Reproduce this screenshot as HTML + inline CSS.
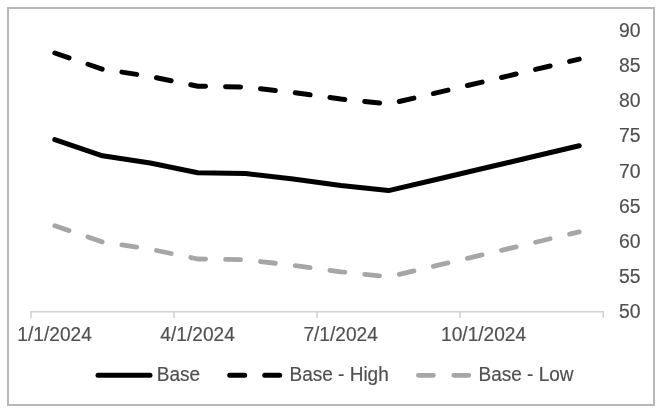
<!DOCTYPE html>
<html><head><meta charset="utf-8">
<style>
html,body{margin:0;padding:0;background:#fff;}
body{width:662px;height:414px;overflow:hidden;position:relative;font-family:"Liberation Sans",sans-serif;}
svg{position:absolute;left:0;top:0;will-change:transform;}
text{font-family:"Liberation Sans",sans-serif;font-size:19.7px;fill:#505050;stroke:#505050;stroke-width:0.18px;}
</style></head><body>
<svg width="662" height="414" viewBox="0 0 662 414">
<rect x="8" y="8" width="646" height="397" fill="#fff" stroke="#b8b8b8" stroke-width="2"/>
<!-- axis -->
<path d="M31,318 V311.8 H603.3 V318 M174,311.8 V318 M317,311.8 V318 M460,311.8 V318" fill="none" stroke="#d2d2d2" stroke-width="1.6"/>
<!-- series -->
<polyline points="54.8,225.8 102.5,242.0 150.2,249.2 197.8,259.0 245.5,259.8 293.2,265.3 340.8,271.8 388.5,276.8 436.2,265.7 483.8,254.5 531.5,243.2 579.2,231.9" fill="none" stroke="#a6a6a6" stroke-width="4.8" stroke-linecap="round" stroke-linejoin="round" stroke-dasharray="15 20"/>
<polyline points="54.8,53.0 102.5,69.2 150.2,76.4 197.8,86.2 245.5,87.0 293.2,92.5 340.8,99.0 388.5,104.0 436.2,92.9 483.8,81.7 531.5,70.4 579.2,59.1" fill="none" stroke="#000" stroke-width="5" stroke-linecap="round" stroke-linejoin="round" stroke-dasharray="15 20"/>
<polyline points="54.8,139.6 102.5,155.8 150.2,163.0 197.8,172.8 245.5,173.6 293.2,179.1 340.8,185.6 388.5,190.6 436.2,179.5 483.8,168.3 531.5,157.0 579.2,145.7" fill="none" stroke="#000" stroke-width="5" stroke-linecap="round" stroke-linejoin="round"/>
<!-- y labels -->
<text transform="translate(640.60,37.00) scale(0.985,1)" text-anchor="end">90</text>
<text transform="translate(640.60,72.00) scale(0.985,1)" text-anchor="end">85</text>
<text transform="translate(640.60,107.00) scale(0.985,1)" text-anchor="end">80</text>
<text transform="translate(640.60,142.00) scale(0.985,1)" text-anchor="end">75</text>
<text transform="translate(640.60,178.00) scale(0.985,1)" text-anchor="end">70</text>
<text transform="translate(640.60,213.00) scale(0.985,1)" text-anchor="end">65</text>
<text transform="translate(640.60,248.00) scale(0.985,1)" text-anchor="end">60</text>
<text transform="translate(640.60,283.00) scale(0.985,1)" text-anchor="end">55</text>
<text transform="translate(640.60,318.00) scale(0.985,1)" text-anchor="end">50</text>
<!-- x labels -->
<text transform="translate(54.58,341.00) scale(0.971,1)" text-anchor="middle">1/1/2024</text>
<text transform="translate(197.58,341.00) scale(0.971,1)" text-anchor="middle">4/1/2024</text>
<text transform="translate(340.59,341.00) scale(0.971,1)" text-anchor="middle">7/1/2024</text>
<text transform="translate(483.59,341.00) scale(0.971,1)" text-anchor="middle">10/1/2024</text>
<!-- legend -->
<path d="M98,375.3 H150" stroke="#000" stroke-width="5" stroke-linecap="round" fill="none"/>
<path d="M229.7,375.3 H281.7" stroke="#000" stroke-width="5" stroke-linecap="round" fill="none" stroke-dasharray="15 20"/>
<path d="M418.4,375.3 H470.4" stroke="#a6a6a6" stroke-width="4.8" stroke-linecap="round" fill="none" stroke-dasharray="15 20.4"/>
<text transform="translate(156.80,381.00) scale(0.965,1)" text-anchor="start">Base</text>
<text transform="translate(289.50,381.00) scale(0.965,1)" text-anchor="start">Base - High</text>
<text transform="translate(478.50,381.00) scale(0.965,1)" text-anchor="start">Base - Low</text>
</svg>
</body></html>
